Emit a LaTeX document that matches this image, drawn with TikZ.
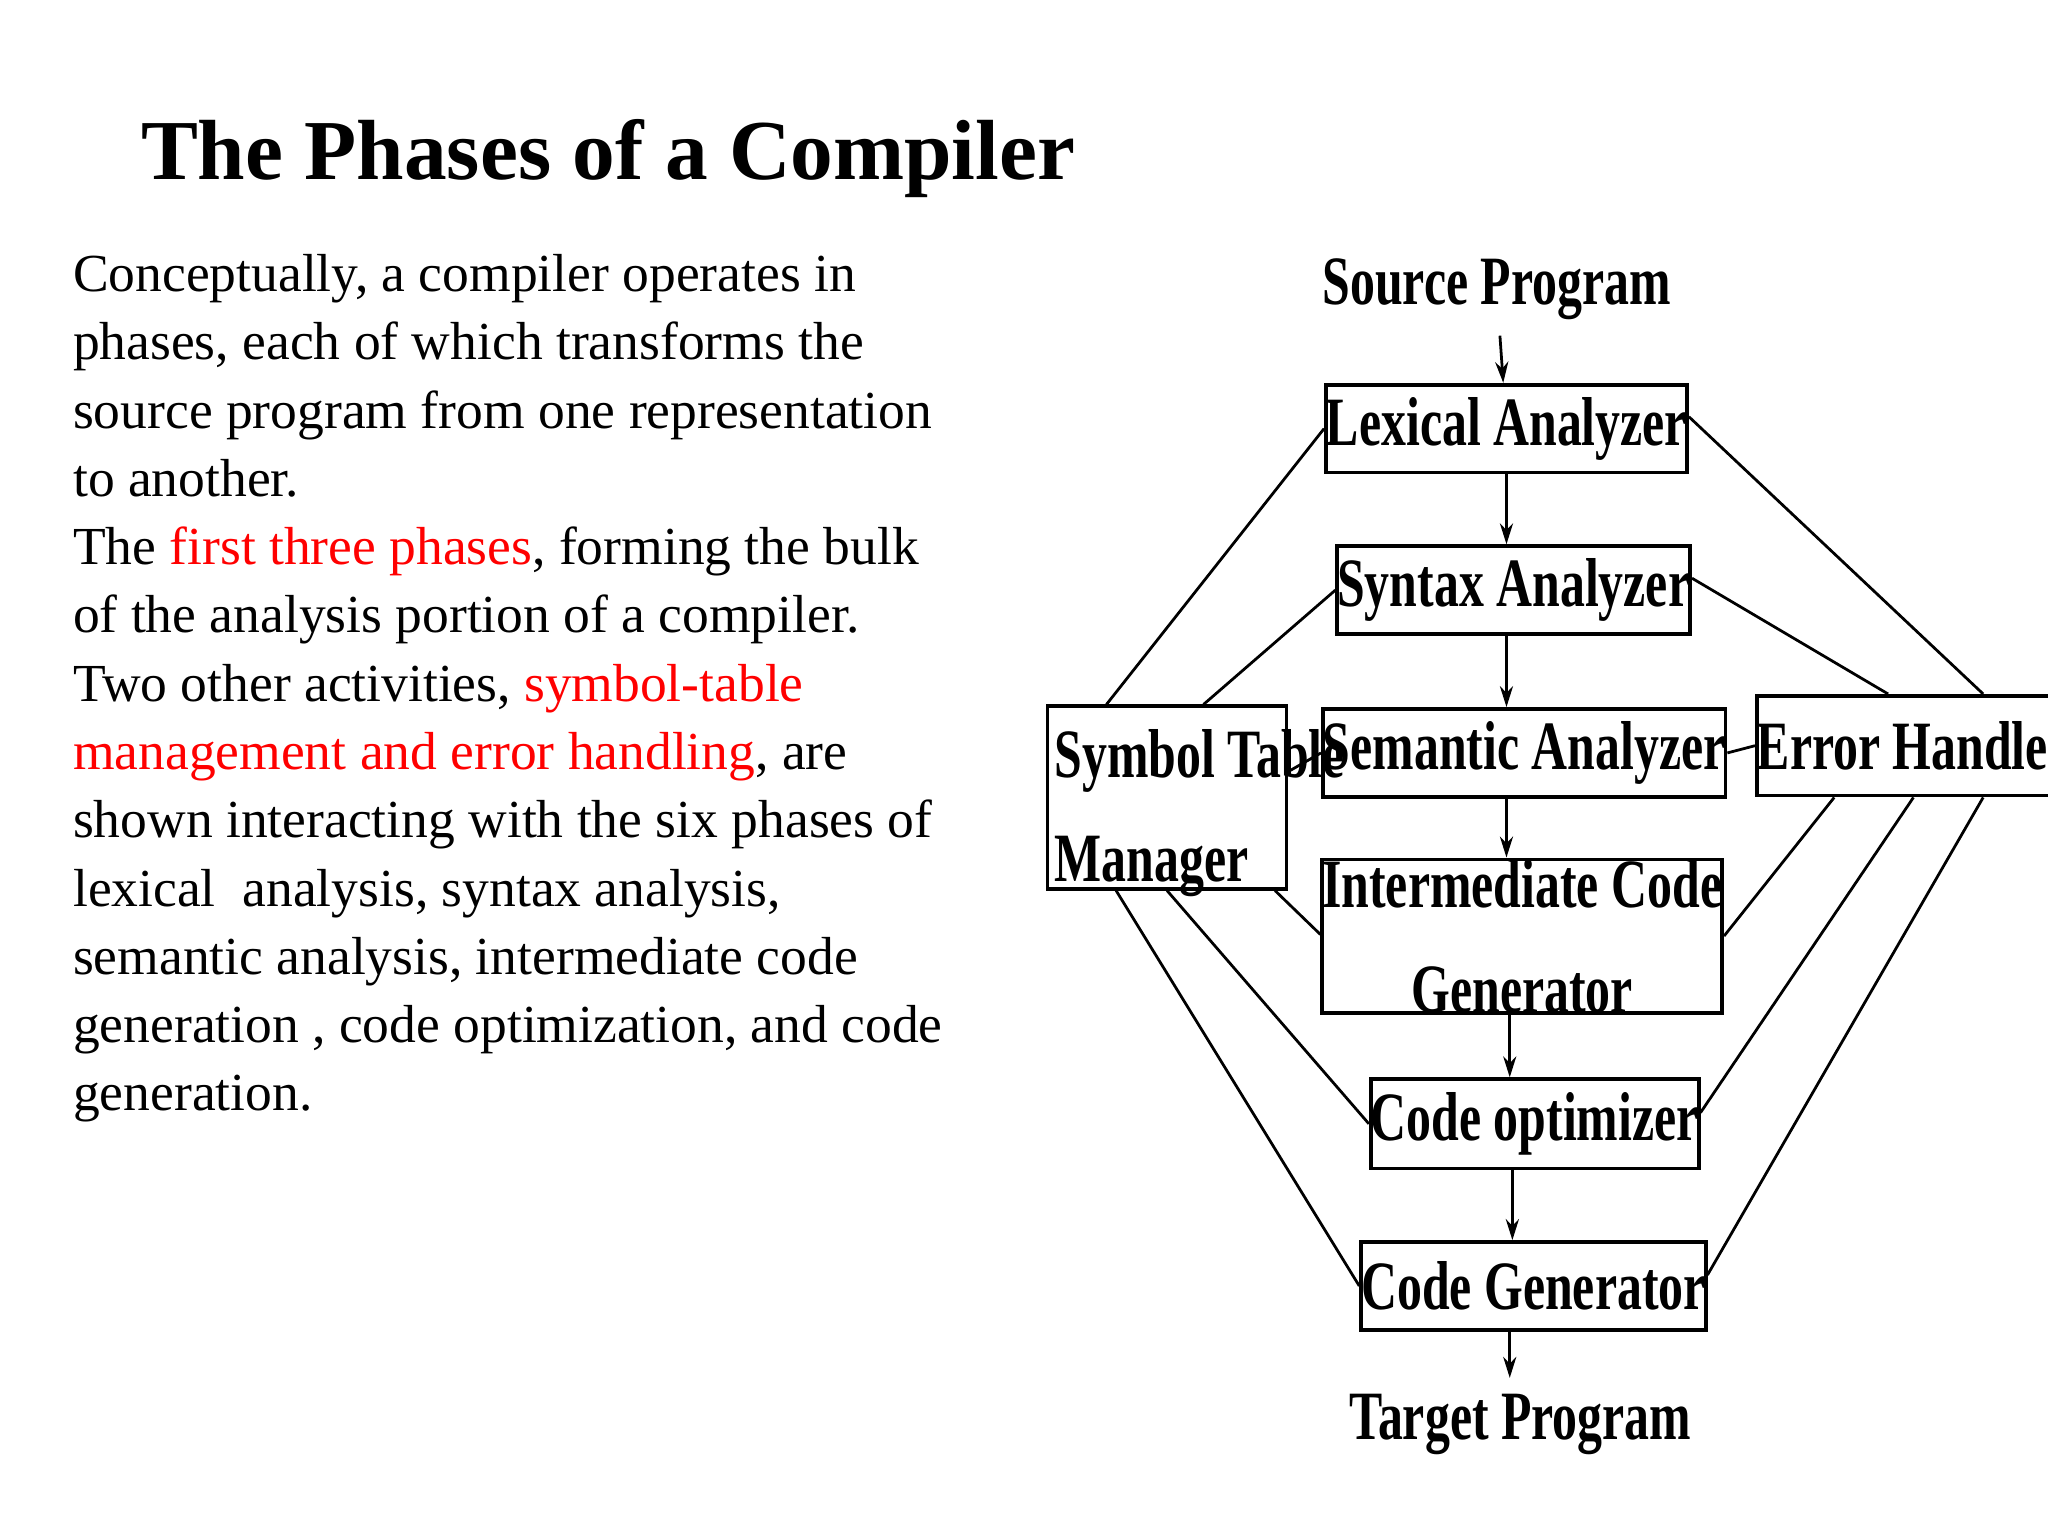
\documentclass[tikz,border=0pt]{standalone}
\usepackage{fontspec}
\setmainfont{Liberation Serif}
\usetikzlibrary{calc,arrows.meta}

\newcommand{\nar}[1]{\scalebox{0.72}[1]{#1}}

\begin{document}
\begin{tikzpicture}[x=0.1mm,y=-0.1mm,
    phase/.style={draw,thick,inner sep=0pt,font=\fontsize{15}{17}\selectfont\bfseries},
    link/.style={semithick},
    flow/.style={semithick,-{Stealth[length=1.6mm,width=1mm]}}]

    \useasboundingbox (0,0) rectangle (1560,1170);

    \node[anchor=base west,font=\fontsize{18.5}{20}\selectfont\bfseries] (title) at (95,137) {The Phases of a Compiler};
    \node[anchor=north west,inner sep=0pt,align=left,font=\fontsize{11.6}{14.8}\selectfont] (body) at (55,193) {%
    Conceptually, a compiler operates in\\
    phases, each of which transforms the\\
    source program from one representation\\
    to another.\\
    The \textcolor{red}{first three phases}, forming the bulk\\
    of the analysis portion of a compiler.\\
    Two other activities, \textcolor{red}{symbol-table}\\
    \textcolor{red}{management and error handling}, are\\
    shown interacting with the six phases of\\
    lexical\ \ analysis, syntax analysis,\\
    semantic analysis, intermediate code\\
    generation , code optimization, and code\\
    generation.};

    % phases
    \node[font=\fontsize{15}{17}\selectfont\bfseries] (src) at (1140,220) {\nar{Source Program}};
    \node[phase,minimum width=21.1mm,minimum height=6.7mm] (lex) at (1147.5,326.5) {\nar{Lexical Analyzer}};
    \node[phase,minimum width=21.0mm,minimum height=6.7mm] (syn) at (1153,449.5) {\nar{Syntax Analyzer}};
    \node[phase,minimum width=23.8mm,minimum height=6.7mm] (sem) at (1161,573.5) {\nar{Semantic Analyzer}};
    \node[phase,minimum width=23.7mm,minimum height=10mm,align=center] (icg) at (1159.5,713) {\nar{Intermediate Code}\\[2mm]\nar{Generator}};
    \node[phase,minimum width=21.2mm,minimum height=6.8mm] (opt) at (1169,856) {\nar{Code optimizer}};
    \node[phase,minimum width=21.2mm,minimum height=6.7mm] (gen) at (1168,979.5) {\nar{Code Generator}};
    \node[font=\fontsize{15}{17}\selectfont\bfseries] (tgt) at (1158,1085) {\nar{Target Program}};
    \node[phase,minimum width=18.2mm,minimum height=13.9mm] (sym) at (889,607.5) {};
    \node[anchor=north west,align=left,inner sep=0pt,font=\fontsize{15}{17}\selectfont\bfseries] (symtxt) at ($(sym.north west)+(6,18)$) {\nar{Symbol Table}\\[2mm]\nar{Manager}};
    \node[phase,minimum width=17.9mm,minimum height=7.6mm] (err) at (1457.5,568) {\nar{Error Handler}};

    % main flow
    \draw[flow] (src) -- (lex);
    \draw[flow] (lex) -- (lex |- syn.north);
    \draw[flow] (lex |- syn.south) -- (lex |- sem.north);
    \draw[flow] (sem.south -| lex) -- (icg.north -| lex);
    \draw[flow] (icg.south -| opt.north) ++(-19,0) coordinate (a) -- (a |- opt.north);
    \draw[flow] (opt.south) ++(-17,0) coordinate (b) -- (b |- gen.north);
    \draw[flow] (gen.south) ++(-18,0) coordinate (c) -- (c |- tgt.north);

    % symbol table links
    \draw[link] ($(sym.north west)!.25!(sym.north east)$) -- ($(lex.north west)!.5!(lex.south west)$);
    \draw[link] ($(sym.north west)!.65!(sym.north east)$) -- (syn.west);
    \draw[link] ($(sym.north east)!.36!(sym.south east)$) -- (sem.west);
    \draw[link] ($(sym.south west)!.945!(sym.south east)$) -- ($(icg.north west)!.49!(icg.south west)$);
    \draw[link] ($(sym.south west)!.5!(sym.south east)$) -- (opt.west);
    \draw[link] ($(sym.south west)!.29!(sym.south east)$) -- (gen.west);

    % error handler links
    \draw[link] ($(lex.north east)!.37!(lex.south east)$) -- ($(err.north west)!.72!(err.north east)$);
    \draw[link] ($(syn.north east)!.37!(syn.south east)$) -- ($(err.north west)!.42!(err.north east)$);
    \draw[link] (sem.east) -- (err.west);
    \draw[link] ($(icg.north east)!.5!(icg.south east)$) -- ($(err.south west)!.25!(err.south east)$);
    \draw[link] ($(opt.north east)!.38!(opt.south east)$) -- ($(err.south west)!.5!(err.south east)$);
    \draw[link] ($(gen.north east)!.38!(gen.south east)$) -- ($(err.south west)!.72!(err.south east)$);
\end{tikzpicture}
\end{document}
